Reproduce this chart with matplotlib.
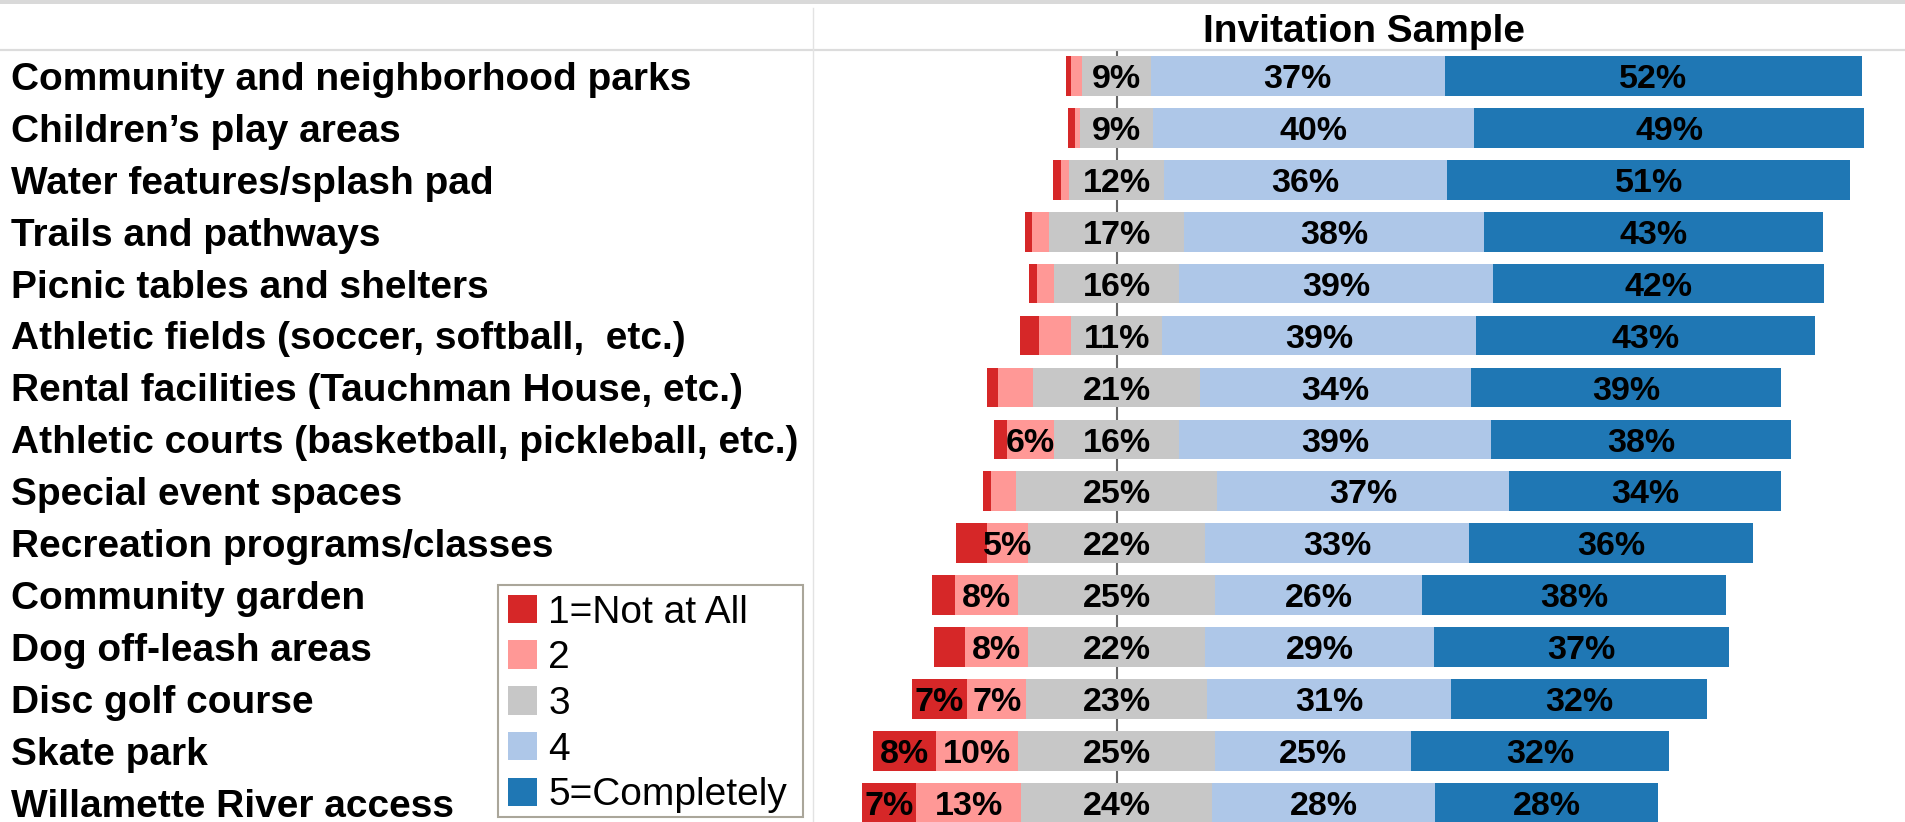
import matplotlib.pyplot as plt
from matplotlib.lines import Line2D
from matplotlib.patches import Rectangle
from matplotlib.transforms import blended_transform_factory
import numpy as np

plt.rcParams["font.family"] = ["Liberation Sans", "DejaVu Sans"]

categories = [
    "Community and neighborhood parks",
    "Children\u2019s play areas",
    "Water features/splash pad",
    "Trails and pathways",
    "Picnic tables and shelters",
    "Athletic fields (soccer, softball,  etc.)",
    "Rental facilities (Tauchman House, etc.)",
    "Athletic courts (basketball, pickleball, etc.)",
    "Special event spaces",
    "Recreation programs/classes",
    "Community garden",
    "Dog off-leash areas",
    "Disc golf course",
    "Skate park",
    "Willamette River access",
]
# percentages, 1 = not at all ... 5 = completely
not_at_all = [0.7, 0.9, 1.1, 0.9, 1.1, 2.4, 1.4, 1.6, 1.1, 3.9, 2.9, 3.9, 7.0, 8.0, 6.8]
two = [1.4, 0.6, 1.0, 2.1, 2.1, 4.1, 4.4, 5.9, 3.1, 5.2, 8.0, 8.0, 7.4, 10.3, 13.2]
three = [8.6, 9.2, 11.9, 17.0, 15.7, 11.4, 21.0, 15.7, 25.3, 22.2, 24.7, 22.2, 22.7, 24.7, 24.0]
four = [36.9, 40.3, 35.6, 37.6, 39.4, 39.4, 34.0, 39.2, 36.6, 33.2, 26.0, 28.8, 30.7, 24.6, 28.0]
completely = [52.4, 49.0, 50.6, 42.6, 41.6, 42.6, 39.0, 37.6, 34.2, 35.6, 38.2, 37.0, 32.1, 32.4, 28.0]

legend_labels = ["1=Not at All", "2", "3", "4", "5=Completely"]
colors = ["#d62728", "#ff9896", "#c7c7c7", "#aec7e8", "#1f77b4"]

W, H = 1905, 822
fig = plt.figure(figsize=(W / 100, H / 100), dpi=100)

# header decorations
fig.add_artist(Rectangle((0, 1 - 4 / H), 1, 4 / H, transform=fig.transFigure,
                         color="#d9d9d9", lw=0))
fig.add_artist(Line2D([0, 1], [1 - 50 / H, 1 - 50 / H], transform=fig.transFigure,
                      color="#dcdcdc", lw=1.6))
fig.add_artist(Line2D([813 / W, 813 / W], [0, 1 - 8 / H], transform=fig.transFigure,
                      color="#e3e3e3", lw=1.0))
fig.text(1364 / W, 1 - 41.7 / H, "Invitation Sample", ha="center", va="baseline",
         fontsize=28, fontweight="bold")

ax = fig.add_axes([813 / W, 0, 1 - 813 / W, (H - 50) / H])

series = [np.array(s) for s in (not_at_all, two, three, four, completely)]
y = np.arange(len(categories))
left = -(series[2] / 2 + series[1] + series[0])
for vals, col, lab in zip(series, colors, legend_labels):
    ax.barh(y, vals, left=left, height=0.765, color=col, label=lab, zorder=2)
    for yi, v, l in zip(y, vals, left):
        if v >= 4.5:
            ax.text(l + v / 2, yi + 0.235, f"{v:.0f}%", ha="center", va="baseline",
                    fontsize=24.5, fontweight="bold", zorder=3)
    left = left + vals

ax.axvline(0, color="#666666", lw=1.5, zorder=1)
ax.set_xlim(-38.15, 99.03)
ax.set_ylim(14.37, -0.5)
ax.axis("off")

tr = blended_transform_factory(fig.transFigure, ax.transData)
for yi, name in zip(y, categories):
    ax.text(11 / W, yi + 0.268, name, transform=tr, ha="left", va="baseline",
            fontsize=28, fontweight="bold")

# legend box drawn separately so its height follows the reference
fig.add_artist(Rectangle((498 / W, 1 - 817 / H), 305 / W, 232 / H,
                         transform=fig.transFigure, facecolor="white",
                         edgecolor="#aaa69a", lw=1.5, zorder=4))
leg = fig.legend(loc="upper left", bbox_to_anchor=(499 / W, 1 - 586 / H),
                 fontsize=28, handlelength=0.75, handleheight=0.75,
                 handletextpad=0.3, labelspacing=0.25, borderpad=0.22,
                 borderaxespad=0, frameon=False)
leg.set_zorder(5)

fig.savefig("out.png", dpi=100)
